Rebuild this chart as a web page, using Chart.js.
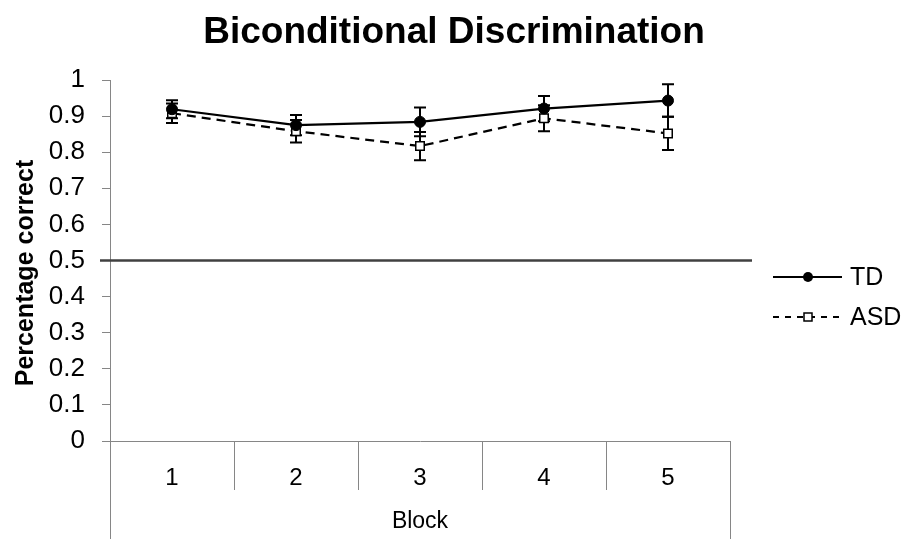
<!DOCTYPE html>
<html>
<head>
<meta charset="utf-8">
<style>
  html, body { margin: 0; padding: 0; background: #fff; }
  #wrap { width: 908px; height: 539px; }
</style>
<script src="https://cdn.jsdelivr.net/npm/chart.js@4.4.1/dist/chart.umd.min.js"></script>
</head>
<body>
<div id="wrap"><canvas id="chart" width="908" height="539"></canvas></div>
<script>
// Block labels and per-block proportion correct (mean and error) for each group
const blocks = ['1', '2', '3', '4', '5'];
const tdMean = [0.919, 0.875, 0.884, 0.921, 0.943];
const tdErr = [0.025, 0.028, 0.040, 0.035, 0.045];
const asdMean = [0.908, 0.858, 0.817, 0.894, 0.852];
const asdErr = [0.027, 0.031, 0.039, 0.036, 0.046];
const chanceLevel = 0.5;

const FONT = "'Liberation Sans', Arial, Helvetica, sans-serif";
const AXIS_GREY = '#868686';

// Vertical error bars with caps, drawn under the point markers
const errorBars = {
  id: 'errorBars',
  beforeDatasetsDraw(chart) {
    const ctx = chart.ctx;
    const y = chart.scales.y;
    const errs = [tdErr, asdErr];
    chart.data.datasets.forEach((ds, di) => {
      const meta = chart.getDatasetMeta(di);
      ctx.save();
      ctx.strokeStyle = '#000';
      ctx.lineWidth = 2;
      meta.data.forEach((pt, i) => {
        const v = ds.data[i];
        const e = errs[di][i];
        const yt = y.getPixelForValue(v + e);
        const yb = y.getPixelForValue(v - e);
        ctx.beginPath();
        ctx.moveTo(pt.x, yt); ctx.lineTo(pt.x, yb);
        ctx.moveTo(pt.x - 6, yt); ctx.lineTo(pt.x + 6, yt);
        ctx.moveTo(pt.x - 6, yb); ctx.lineTo(pt.x + 6, yb);
        ctx.stroke();
      });
      ctx.restore();
    });
  }
};

// Titles, chance line, category dividers and the legend
const decorations = {
  id: 'decorations',
  afterDraw(chart) {
    const ctx = chart.ctx;
    const {left, right, bottom} = chart.chartArea;
    const x = chart.scales.x;
    const y = chart.scales.y;
    ctx.save();

    // Chart title
    ctx.fillStyle = '#000';
    ctx.font = 'bold 37px ' + FONT;
    ctx.textAlign = 'center';
    ctx.textBaseline = 'middle';
    ctx.fillText('Biconditional Discrimination', chart.width / 2, 33);

    // Value axis title
    ctx.save();
    ctx.translate(26, 273);
    ctx.rotate(-Math.PI / 2);
    ctx.font = 'bold 25px ' + FONT;
    ctx.fillText('Percentage correct', 0, 0);
    ctx.restore();

    // Category dividers below the axis
    ctx.strokeStyle = AXIS_GREY;
    ctx.lineWidth = 1;
    const half = (x.getPixelForValue(1) - x.getPixelForValue(0)) / 2;
    ctx.beginPath();
    for (let i = 0; i <= blocks.length; i++) {
      const px = Math.round(x.getPixelForValue(i) - half) + 0.5;
      const isEdge = i === 0 || i === blocks.length;
      ctx.moveTo(px, bottom);
      ctx.lineTo(px, isEdge ? chart.height : bottom + 49);
    }
    ctx.stroke();

    // Chance-level reference line
    const yc = y.getPixelForValue(chanceLevel);
    ctx.strokeStyle = '#404040';
    ctx.lineWidth = 2.5;
    ctx.beginPath();
    ctx.moveTo(left - 10, yc);
    ctx.lineTo(right + 22, yc);
    ctx.stroke();

    // Legend
    const lx0 = 773, lx1 = 842, mx = 808;
    ctx.strokeStyle = '#000';
    ctx.lineWidth = 2;
    // TD
    ctx.beginPath();
    ctx.moveTo(lx0, 277); ctx.lineTo(lx1, 277);
    ctx.stroke();
    ctx.beginPath();
    ctx.arc(mx, 277, 5, 0, Math.PI * 2);
    ctx.fillStyle = '#000';
    ctx.fill();
    // ASD
    ctx.setLineDash([6, 6]);
    ctx.beginPath();
    ctx.moveTo(lx0, 317); ctx.lineTo(lx1, 317);
    ctx.stroke();
    ctx.setLineDash([]);
    ctx.fillStyle = '#fff';
    ctx.fillRect(mx - 4, 313, 8, 8);
    ctx.lineWidth = 1.5;
    ctx.strokeRect(mx - 4, 313, 8, 8);

    ctx.fillStyle = '#000';
    ctx.font = '25px ' + FONT;
    ctx.textAlign = 'left';
    ctx.textBaseline = 'middle';
    ctx.fillText('TD', 850, 278);
    ctx.fillText('ASD', 850, 318);

    ctx.restore();
  }
};

new Chart(document.getElementById('chart'), {
  type: 'line',
  data: {
    labels: blocks,
    datasets: [
      {
        label: 'TD',
        data: tdMean,
        borderColor: '#000',
        backgroundColor: '#000',
        borderWidth: 2.25,
        pointStyle: 'circle',
        pointRadius: 5.5,
        pointBackgroundColor: '#000',
        pointBorderColor: '#000',
        pointBorderWidth: 1,
        tension: 0
      },
      {
        label: 'ASD',
        data: asdMean,
        borderColor: '#000',
        backgroundColor: '#fff',
        borderWidth: 2.25,
        borderDash: [9, 6],
        pointStyle: 'rect',
        pointRadius: 6,
        pointBackgroundColor: '#fff',
        pointBorderColor: '#000',
        pointBorderWidth: 1.5,
        tension: 0
      }
    ]
  },
  options: {
    responsive: false,
    animation: false,
    events: [],
    layout: { padding: { top: 80, right: 178, left: 0, bottom: 0 } },
    plugins: {
      legend: { display: false },
      title: { display: false },
      tooltip: { enabled: false }
    },
    scales: {
      x: {
        type: 'category',
        offset: true,
        afterFit(scale) { scale.height = 98; },
        border: { display: true, color: AXIS_GREY, width: 1 },
        grid: { display: false, drawTicks: false },
        ticks: {
          color: '#000',
          font: { family: FONT, size: 24 },
          padding: 23,
          maxRotation: 0
        },
        title: {
          display: true,
          text: 'Block',
          color: '#000',
          font: { family: FONT, size: 23 },
          padding: { top: 0, bottom: 4 }
        }
      },
      y: {
        min: 0,
        max: 1,
        afterFit(scale) { scale.width = 110; },
        border: { display: true, color: AXIS_GREY, width: 1 },
        grid: {
          drawOnChartArea: false,
          drawTicks: true,
          tickLength: 8,
          color: AXIS_GREY
        },
        ticks: {
          stepSize: 0.1,
          color: '#000',
          font: { family: FONT, size: 26 },
          padding: 17,
          callback: (v) => String(Number(v.toFixed(1)))
        },
        title: { display: false }
      }
    }
  },
  plugins: [errorBars, decorations]
});
</script>
</body>
</html>
